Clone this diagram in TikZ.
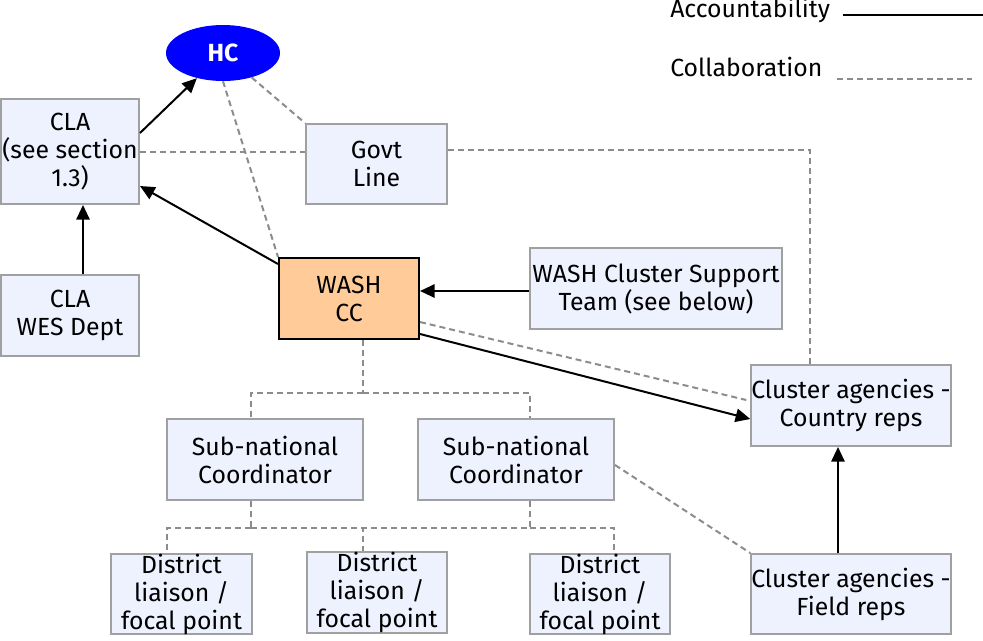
\documentclass[tikz,border=0pt]{standalone}
\usepackage{fontspec}
\setmainfont{Fira Sans}
\usetikzlibrary{arrows.meta,calc,shapes.geometric}
\definecolor{boxfill}{RGB}{238,242,255}
\definecolor{boxline}{RGB}{160,160,160}
\definecolor{ccfill}{RGB}{255,204,153}
\definecolor{dashgray}{RGB}{140,140,140}

\begin{document}
\begin{tikzpicture}[x=0.75pt,y=-0.75pt]
\tikzstyle{every node}+=[inner sep=0pt,font=\fontsize{18.6}{21}\selectfont,align=center]
\tikzstyle{box}=[draw=boxline,fill=boxfill,line width=1.5pt,rectangle]
\tikzstyle{acc}=[black,line width=1.5pt,-{Triangle[length=11pt,width=10pt]}]
\tikzstyle{col}=[dashgray,line width=1.5pt,dash pattern=on 4.5pt off 3pt]
\useasboundingbox (0,0) rectangle (983,640);
% nodes
\node (hc) at (223,53) [ellipse,fill=blue,minimum width=85.5pt,minimum height=42pt,text=white,font=\fontsize{18.6}{21}\selectfont\bfseries] {HC};
\node (cla) at (70,151.5) [box,minimum width=103.5pt,minimum height=78.75pt] {CLA\\(see section\\1.3)};
\node (govt) at (376.5,164) [box,minimum width=105.75pt,minimum height=60pt] {Govt\\Line};
\node (wes) at (70,315.5) [box,minimum width=103.5pt,minimum height=60.75pt] {CLA\\WES Dept};
\node (wash) at (349,298.5) [box,draw=black,fill=ccfill,minimum width=105pt,minimum height=60.75pt] {WASH\\CC};
\node (cst) at (656,288.5) [box,minimum width=189pt,minimum height=60.75pt] {WASH Cluster Support\\Team (see below)};
\node (crep) at (851,405.5) [box,minimum width=147pt,minimum height=60.75pt] {Cluster agencies -\\Country reps};
\node (frep) at (851,594) [box,minimum width=147pt,minimum height=60pt] {Cluster agencies -\\Field reps};
\node (sn1) at (265,459.5) [box,minimum width=147pt,minimum height=60.75pt] {Sub-national\\Coordinator};
\node (sn2) at (516,459.5) [box,minimum width=147pt,minimum height=60.75pt] {Sub-national\\Coordinator};
\node (d1) at (181.5,594) [box,minimum width=105.75pt,minimum height=60pt] {District\\liaison /\\focal point};
\node (d2) at (377,592.5) [box,minimum width=105pt,minimum height=60.75pt] {District\\liaison /\\focal point};
\node (d3) at (600,594) [box,minimum width=105pt,minimum height=60pt] {District\\liaison /\\focal point};
% legend
\node (accl) at (670,17) [anchor=base west] {Accountability};
\node (coll) at (670,76) [anchor=base west] {Collaboration};
\coordinate (acca) at (843,15);
\coordinate (accb) at (983,15);
\coordinate (cola) at (837,79);
\coordinate (colb) at (972,79);
\draw [black,line width=1.5pt] (acca) -- (accb);
\draw [col] (cola) -- (colb);
% accountability
\draw [acc] ($(cla.east)+(0,-18.5)$) -- (hc);
\draw [acc] ($(wash.north west)+(0,7)$) -- ($(cla.south east)+(0,-19)$);
\draw [acc] ($(wes.north)+(13,0)$) -- ($(cla.south)+(13,0)$);
\draw [acc] ($(cst.west)+(0,2.5)$) -- ($(wash.east)+(0,-7.5)$);
\draw [acc] ($(wash.east)+(0,35.5)$) -- ($(crep.west)+(0,13.5)$);
\draw [acc] ($(frep.north)+(-13,0)$) -- ($(crep.south)+(-13,0)$);
% collaboration
\draw [col] (hc) -- (govt.north west);
\draw [col] (hc.south) -- (wash.north west);
\draw [col] (cla.east) -- (cla.east -| govt.west);
\draw [col] ($(govt.east)+(0,-14)$) -| ($(crep.north)+(-41,0)$);
\draw [col] ($(wes.east)+(0,-23.5)$) -- ($(wes.east)+(0,-23.5)$ -| wash.west);
\draw [col] ($(govt.south)+(-14.5,0)$) -- ($(govt.south)+(-14.5,0)$ |- wash.north);
\draw [col] ($(wash.east)+(0,23.5)$) -- ($(crep.west)+(-4,-5.5)$);
\draw [col] ($(wash.south)+(14,0)$) -- ++(0,53) coordinate (j1);
\draw [col] (j1) -| ($(sn1.north)+(-14,0)$);
\draw [col] (j1) -| ($(sn2.north)+(14,0)$);
\draw [col] ($(sn1.south)+(-14,0)$) -- ++(0,27) coordinate (j2);
\draw [col] ($(sn2.south)+(14,0)$) -- ++(0,27) coordinate (j3);
\draw [col] (j2) -| ($(d1.north)+(-14.5,0)$);
\draw [col] (j2) -| ($(d2.north)+(-14,0)$);
\draw [col] (j2) -- (j3);
\draw [col] (j3) -| ($(d3.north)+(14,0)$);
\draw [col] ($(sn2.east)+(0,5.5)$) -- (frep.north west);
\draw [col] ($(d3.east)+(0,5)$) -- ($(d3.east)+(0,5)$ -| frep.west);
\end{tikzpicture}
\end{document}
